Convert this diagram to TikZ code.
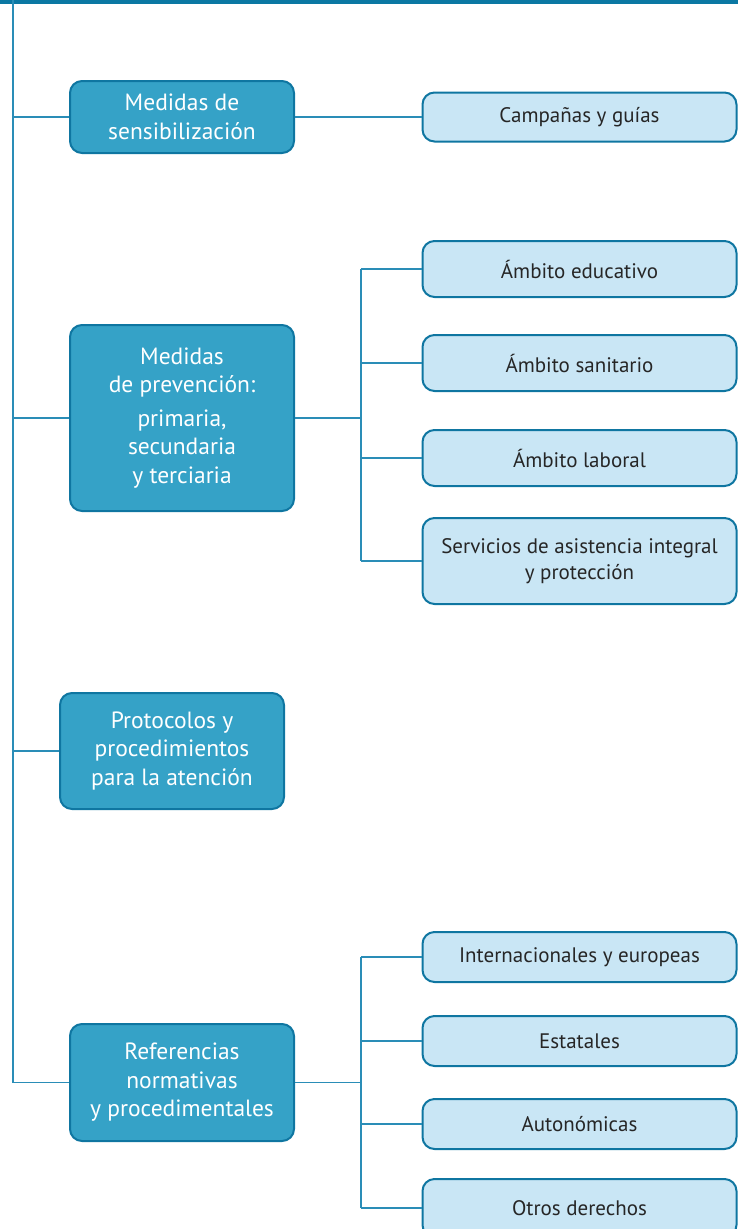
\documentclass[tikz,border=0pt]{standalone}
\usepackage{fontspec}
\setmainfont{PT Sans}
\definecolor{barblue}{HTML}{0B78A3}
\definecolor{lineblue}{HTML}{2A8DB7}
\definecolor{darkfill}{HTML}{35A2C7}
\definecolor{lightfill}{HTML}{C9E6F5}
\definecolor{edgeblue}{HTML}{0F76A1}
\definecolor{textgray}{HTML}{262626}

\begin{document}
\begin{tikzpicture}
	[x=1pt,y=-1pt,
		every node/.style={shape=rectangle,rounded corners=12pt,draw=edgeblue,
			line width=2pt,align=center,inner sep=0pt},
		mainbox/.style={fill=darkfill,text=white,minimum width=224pt,
			font=\fontsize{23.5}{28.5}\selectfont},
		subbox/.style={fill=lightfill,text=textgray,minimum width=314pt,
			font=\fontsize{21}{26}\selectfont},
		link/.style={draw=lineblue,line width=1.3pt}]
		\useasboundingbox (0,0) rectangle (738,1229);
		\clip (0,0) rectangle (738,1229);
		\fill[barblue] (0,0) rectangle (738,4);

		\node[mainbox,minimum height=72pt] (sens) at (182,117) {Medidas de\\sensibilización};
		\node[mainbox,minimum height=186pt] (prev) at (182,418)
			{Medidas\\de prevención:\\[5pt]primaria,\\secundaria\\y terciaria};
		\node[mainbox,minimum height=116pt] (prot) at (172,751)
			{Protocolos y\\procedimientos\\para la atención};
		\node[mainbox,minimum height=117pt] (refn) at (182,1082.5)
			{Referencias\\normativas\\y procedimentales};

		\node[subbox,minimum height=49pt] (camp) at (579.5,117) {Campañas y guías};
		\node[subbox,minimum height=56pt] (edu) at (579.5,269) {Ámbito educativo};
		\node[subbox,minimum height=56pt] (san) at (579.5,363) {Ámbito sanitario};
		\node[subbox,minimum height=56pt] (lab) at (579.5,458) {Ámbito laboral};
		\node[subbox,minimum height=86pt] (serv) at (579.5,561)
			{Servicios de asistencia integral\\y protección};
		\node[subbox,minimum height=50pt] (inter) at (579.5,957) {Internacionales y europeas};
		\node[subbox,minimum height=50pt] (esta) at (579.5,1041) {Estatales};
		\node[subbox,minimum height=50pt] (auto) at (579.5,1124) {Autonómicas};
		\node[subbox,minimum height=58pt] (otros) at (579.5,1208) {Otros derechos};

		% trunk on the left
		\coordinate (trunk) at (13,0);
		\draw[link] (trunk) |- (refn.west);
		\foreach \mainNode in {sens,prev,prot}
			\draw[link] (\mainNode.west) -- (\mainNode.west -| trunk);

		% branches on the right
		\coordinate (fork) at (361,0);
		\draw[link] (sens) -- (camp);
		\draw[link] (prev.east) -- (prev.east -| fork);
		\draw[link] (edu.west -| fork) -- (serv.west -| fork);
		\draw[link] (refn.east) -- (refn.east -| fork);
		\draw[link] (inter.west -| fork) -- (otros.west -| fork);
		\foreach \subNode in {edu,san,lab,serv,inter,esta,auto,otros}
			\draw[link] (\subNode.west) -- (\subNode.west -| fork);
	\end{tikzpicture}
\end{document}
